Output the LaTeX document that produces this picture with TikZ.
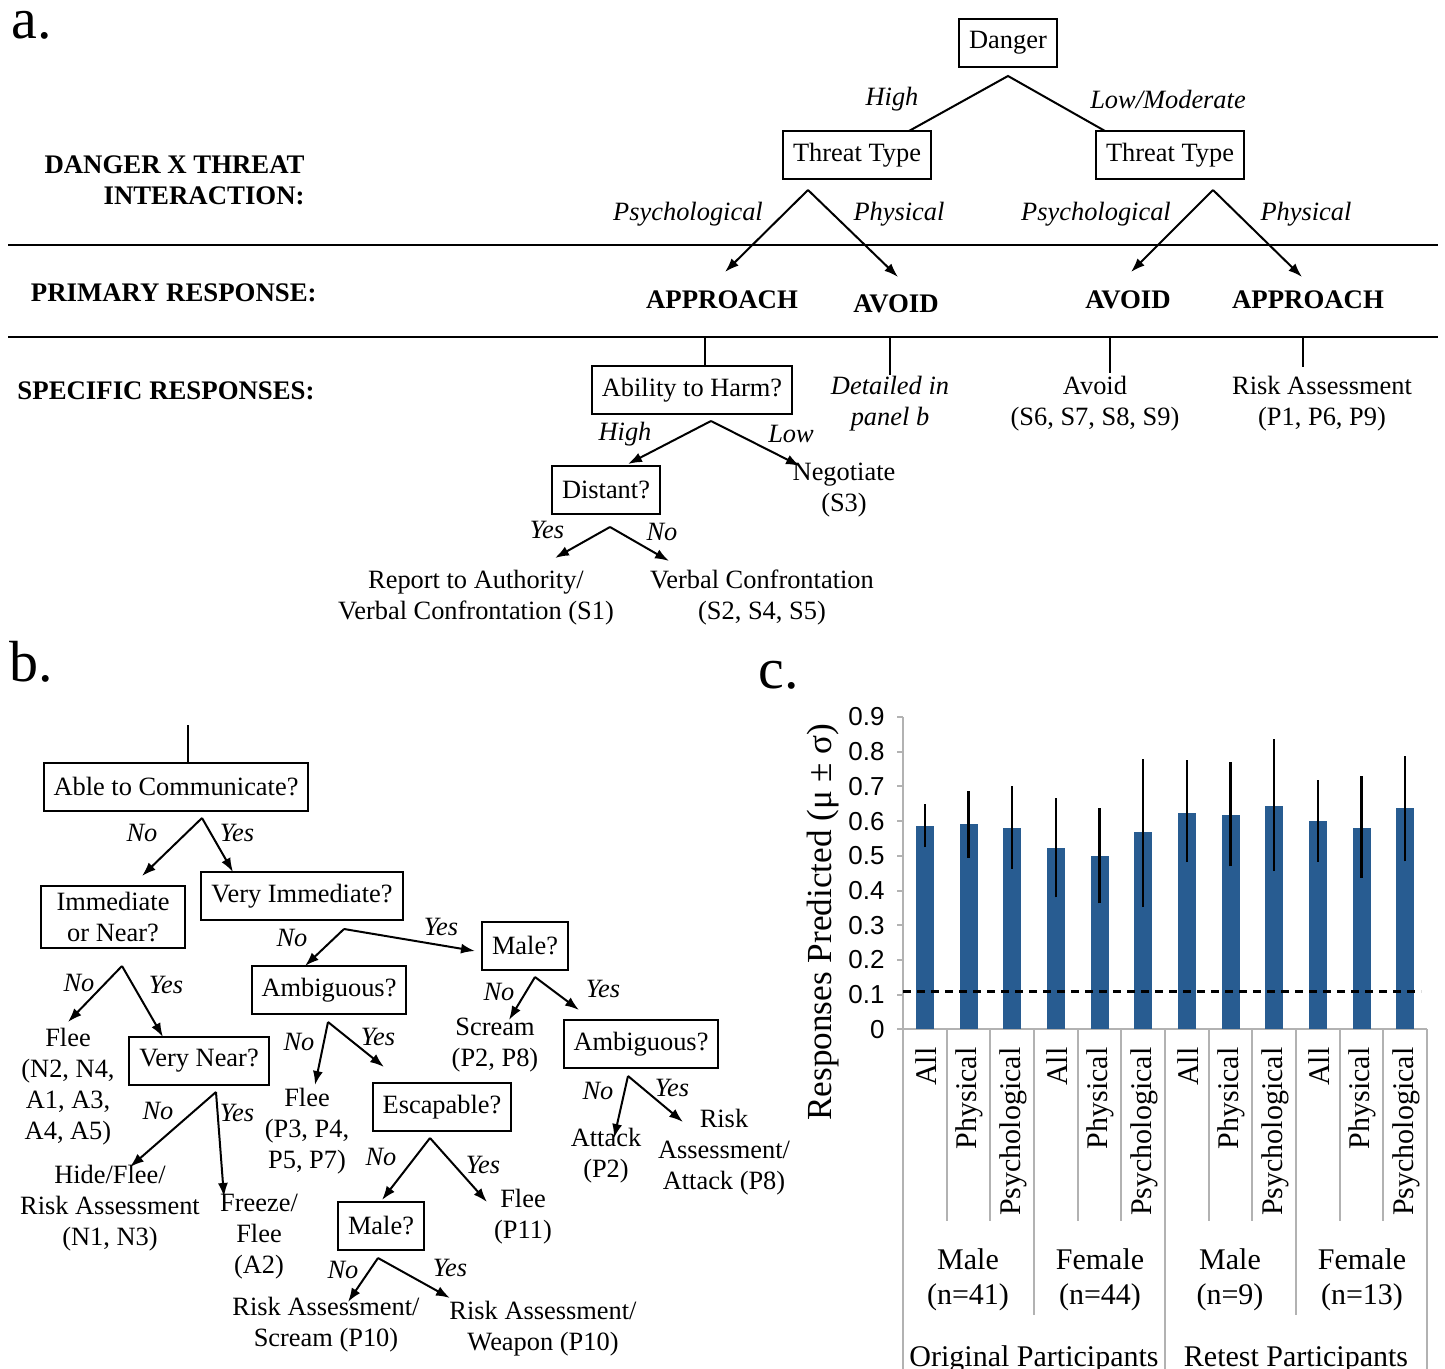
\documentclass[tikz,border=0pt]{standalone}
\usepackage{fontspec}
\setmainfont{Liberation Serif}
\setsansfont{Liberation Sans}
\usetikzlibrary{arrows.meta}
\definecolor{barblue}{RGB}{40,92,145}
\begin{document}
\begin{tikzpicture}
    [x=0.5pt,y=-0.5pt,
     every node/.style={font=\fontsize{13.2}{15.5}\selectfont,align=center,inner sep=1pt},
     box/.style={draw,line width=1pt,inner xsep=5pt,inner ysep=3pt,minimum height=24pt},
     lbl/.style={font=\fontsize{13.2}{15.5}\selectfont\itshape},
     hd/.style={font=\fontsize{13.4}{15.5}\selectfont\bfseries},
     panel/.style={font=\fontsize{29}{29}\selectfont,anchor=base west,inner sep=0pt},
     cat/.style={font=\fontsize{15}{17.5}\selectfont},
     tick/.style={font=\sffamily\fontsize{13}{15}\selectfont,anchor=east},
     arr/.style={line width=1pt,-{Latex[length=7pt,width=5pt]}},
     ln/.style={line width=1pt},
     sep/.style={line width=1pt,gray!60}]
    \useasboundingbox (0,0) rectangle (1445,1369);

    % panel a
    \node[panel] (pa) at (11,39) {a.};
    \node[box] (danger) at (1008,43) {Danger};
    \node[box] (ttL) at (857,155) {Threat Type};
    \node[box] (ttR) at (1170,155) {Threat Type};
    \coordinate (d0) at (1008,76);
    \coordinate (d1) at (909,131);
    \coordinate (d2) at (1105,131);
    \draw[ln] (d1) -- (d0) -- (d2);
    \node[lbl] at (892,99) {High};
    \node[lbl] at (1168,99) {Low/Moderate};

    \node[hd,align=right,anchor=east] (hdA) at (307,180) {DANGER X THREAT\\INTERACTION:};
    \node[hd,anchor=east] (hdB) at (319,293) {PRIMARY RESPONSE:};
    \node[hd,anchor=east] (hdC) at (317,391) {SPECIFIC RESPONSES:};
    \draw[ln] (8,245) -- (1438,245);
    \draw[ln] (8,337) -- (1438,337);

    \node[hd] (apL) at (722,300) {APPROACH};
    \node[hd] (avL) at (896,304) {AVOID};
    \node[hd] (avR) at (1128,300) {AVOID};
    \node[hd] (apR) at (1308,300) {APPROACH};
    \coordinate (t1) at (808,190); \coordinate (t1l) at (725,272); \coordinate (t1r) at (898,277);
    \coordinate (t2) at (1213,190); \coordinate (t2l) at (1131,272); \coordinate (t2r) at (1302,277);
    \node[lbl] at (688,214) {Psychological};
    \node[lbl] at (899,214) {Physical};
    \node[lbl] at (1096,214) {Psychological};
    \node[lbl] at (1306,214) {Physical};

    \node[box] (harm) at (692,390) {Ability to Harm?};
    \node[lbl] (detail) at (890,404) {Detailed in\\panel b};
    \node (avoid) at (1095,404) {Avoid\\(S6, S7, S8, S9)};
    \node (riskA) at (1322,404) {Risk Assessment\\(P1, P6, P9)};
    \draw[ln] (705,337) -- (705,367);
    \draw[ln] (890,337) -- (890,375);
    \draw[ln] (1110,337) -- (1110,373);
    \draw[ln] (1303,337) -- (1303,367);

    \coordinate (h0) at (711,421); \coordinate (h0l) at (628,464); \coordinate (h0r) at (800,466);
    \node[lbl] at (625,434) {High};
    \node[lbl] at (791,434) {Low};
    \node[box] (distant) at (606,490) {Distant?};
    \node (nego) at (844,490) {Negotiate\\(S3)};
    \coordinate (s0) at (610,527); \coordinate (s0l) at (555,558); \coordinate (s0r) at (669,561);
    \node[lbl] at (547,530) {Yes};
    \node[lbl] at (662,532) {No};
    \node (report) at (476,598) {Report to Authority/\\Verbal Confrontation (S1)};
    \node (verbal) at (762,598) {Verbal Confrontation\\(S2, S4, S5)};

    % panel b
    \node[panel] (pb) at (9,681) {b.};
    \draw[ln] (188,725) -- (188,763);
    \node[box] (comm) at (176,787) {Able to Communicate?};
    \coordinate (c0) at (202,818); \coordinate (c0l) at (142,876); \coordinate (c0r) at (233,872);
    \node[lbl] at (142,833) {No};
    \node[lbl] at (237,833) {Yes};
    \node[box,inner xsep=8pt] (imm) at (113,917) {Immediate\\or Near?};
    \node[box] (vimm) at (302,896) {Very Immediate?};
    \coordinate (v0) at (344,929); \coordinate (v0l) at (305,966); \coordinate (v0r) at (475,951);
    \node[lbl] at (292,938) {No};
    \node[lbl] at (441,927) {Yes};
    \node[box] (male1) at (525,946) {Male?};
    \node[box] (amb1) at (329,990) {Ambiguous?};
    \coordinate (i0) at (122,966); \coordinate (i0l) at (68,1022); \coordinate (i0r) at (163,1037);
    \node[lbl] at (79,983) {No};
    \node[lbl] at (166,985) {Yes};
    \node (flee1) at (68,1087) {Flee\\(N2, N4,\\A1, A3,\\A4, A5)};
    \node[box] (vnear) at (199,1061) {Very Near?};
    \coordinate (n0) at (216,1092); \coordinate (n0l) at (130,1167); \coordinate (n0r) at (224,1197);
    \node[lbl] at (158,1111) {No};
    \node[lbl] at (237,1113) {Yes};
    \node (hide) at (110,1208) {Hide/Flee/\\Risk Assessment\\(N1, N3)};
    \node (freeze) at (259,1237) {Freeze/\\Flee\\(A2)};
    \coordinate (a0) at (328,1022); \coordinate (a0l) at (315,1085); \coordinate (a0r) at (384,1067);
    \node[lbl] at (299,1042) {No};
    \node[lbl] at (378,1037) {Yes};
    \node (flee2) at (307,1131) {Flee\\(P3, P4,\\P5, P7)};
    \node[box] (esc) at (442,1107) {Escapable?};
    \coordinate (e0) at (430,1138); \coordinate (e0l) at (382,1200); \coordinate (e0r) at (487,1202);
    \node[lbl] at (381,1157) {No};
    \node[lbl] at (483,1165) {Yes};
    \node (flee3) at (523,1217) {Flee\\(P11)};
    \node[box] (male2) at (381,1226) {Male?};
    \coordinate (m0) at (378,1258); \coordinate (m0l) at (348,1302); \coordinate (m0r) at (450,1298);
    \node[lbl] at (343,1270) {No};
    \node[lbl] at (450,1268) {Yes};
    \node (rscream) at (326,1325) {Risk Assessment/\\Scream (P10)};
    \node (rweapon) at (543,1329) {Risk Assessment/\\Weapon (P10)};
    \coordinate (k0) at (535,977); \coordinate (k0l) at (509,1020); \coordinate (k0r) at (579,1010);
    \node[lbl] at (499,992) {No};
    \node[lbl] at (603,989) {Yes};
    \node (scream) at (495,1045) {Scream\\(P2, P8)};
    \node[box] (amb2) at (641,1044) {Ambiguous?};
    \coordinate (b0) at (628,1076); \coordinate (b0l) at (614,1138); \coordinate (b0r) at (683,1122);
    \node[lbl] at (598,1091) {No};
    \node[lbl] at (672,1088) {Yes};
    \node (attack) at (606,1156) {Attack\\(P2)};
    \node (riskB) at (724,1152) {Risk\\Assessment/\\Attack (P8)};

    \foreach \a in {t1,t2,h0,s0,c0,v0,i0,n0,a0,e0,m0,k0,b0}
      {\draw[arr] (\a) -- (\a l); \draw[arr] (\a) -- (\a r);}

    % panel c
    \node[panel] (pc) at (758,688) {c.};
    \node[font=\fontsize{17.6}{20}\selectfont,rotate=90] (ylab) at (823,922) {Responses Predicted (μ ± σ)};
    \foreach \v in {0,...,9}
      {\draw[sep] (897,1029.3-34.7*\v) -- (903,1029.3-34.7*\v);
       \node[tick] at (887,1029.3-34.7*\v) {\ifnum\v=0 0\else 0.\v\fi};}
    \draw[sep] (903,717) -- (903,1029.3) -- (1427,1029.3);
    \foreach \i/\m/\lo/\hi/\c in {1/0.587/0.525/0.650/All,2/0.593/0.495/0.687/Physical,3/0.581/0.463/0.700/Psychological,
                                  4/0.524/0.380/0.668/All,5/0.500/0.363/0.637/Physical,6/0.568/0.352/0.780/Psychological,
                                  7/0.624/0.482/0.775/All,8/0.618/0.470/0.770/Physical,9/0.644/0.456/0.837/Psychological,
                                  10/0.600/0.483/0.718/All,11/0.581/0.437/0.730/Physical,12/0.637/0.484/0.787/Psychological}
      {\pgfmathsetmacro\xc{903+43.67*(\i-0.5)}
       \fill[barblue] (\xc-9,1029.3) rectangle (\xc+9,1029.3-346.9*\m);
       \draw[line width=1.2pt] (\xc,1029.3-346.9*\lo) -- (\xc,1029.3-346.9*\hi);
       \node[cat,rotate=90,anchor=east] at (\xc+1,1045) {\c};}
    \draw[line width=1.4pt,dash pattern=on 4pt off 3pt] (903,991.1) -- (1421,991.1);
    \foreach \k in {1,2,4,5,7,8,10,11} \draw[sep] (903+43.67*\k,1029.3) -- (903+43.67*\k,1221);
    \foreach \k in {3,9} \draw[sep] (903+43.67*\k,1029.3) -- (903+43.67*\k,1315);
    \foreach \k in {0,6,12} \draw[sep] (903+43.67*\k,1029.3) -- (903+43.67*\k,1369);
    \node[cat] (g1) at (968,1280) {Male\\(n=41)};
    \node[cat] (g2) at (1100,1280) {Female\\(n=44)};
    \node[cat] (g3) at (1230,1280) {Male\\(n=9)};
    \node[cat] (g4) at (1362,1280) {Female\\(n=13)};
    \node[cat,anchor=base] (orig) at (1034,1366) {Original Participants};
    \node[cat,anchor=base] (retest) at (1296,1366) {Retest Participants};
\end{tikzpicture}
\end{document}
